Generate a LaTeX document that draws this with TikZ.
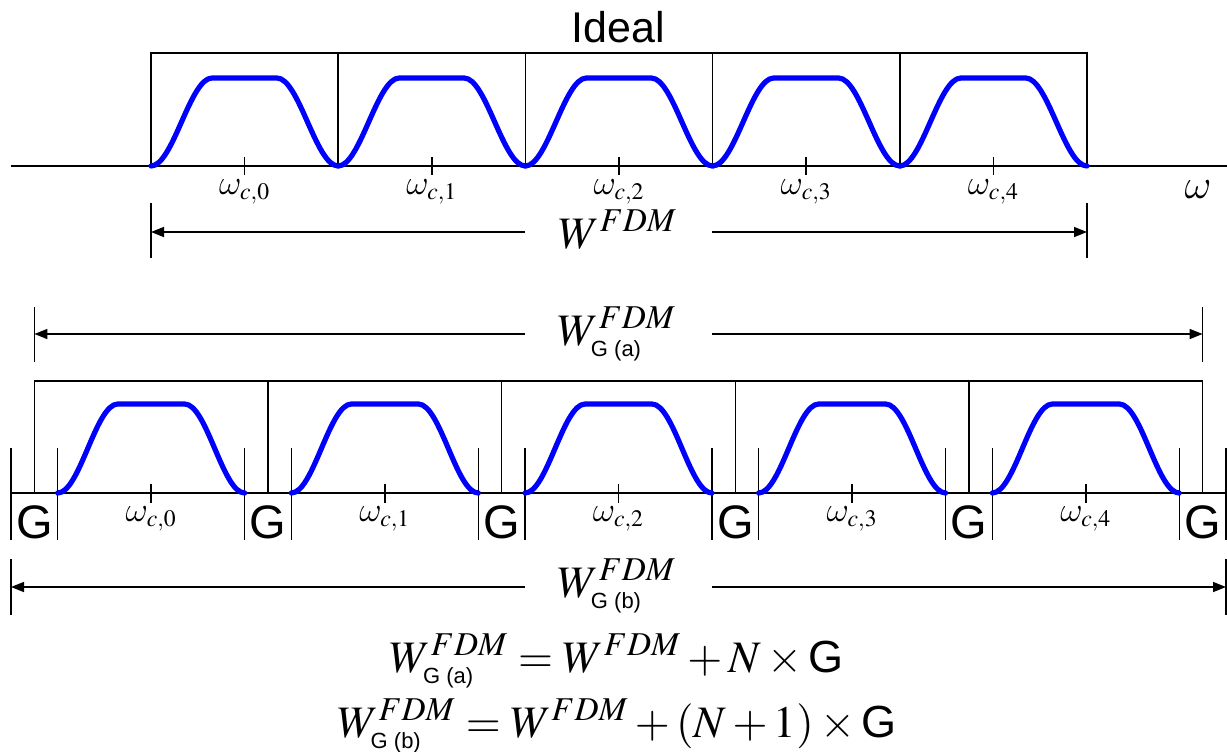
\documentclass[tikz,border=0pt]{standalone}
\usepackage{amsmath}
\usepackage{mathptmx}
\usepackage[no-math]{fontspec}
\setsansfont{Liberation Sans}
\usetikzlibrary{arrows.meta,positioning}
\DeclareSymbolFont{cmletters}{OML}{cmm}{m}{it}
\DeclareMathSymbol{\omega}{\mathord}{cmletters}{"21}
\newcommand\gsub[1]{\mbox{\fontsize{11}{13}\selectfont\sffamily #1}}

\begin{document}
\begin{tikzpicture}[
  x=0.5pt,y=-0.5pt,line width=0.75pt,
  sig/.style={blue,line width=2.6pt,line cap=round,line join=round},
  dim/.style={-{Triangle[length=6.5pt,width=5pt]}},
  wlab/.style={font=\fontsize{16}{19}\selectfont,inner sep=0pt},
  glab/.style={font=\fontsize{23.5}{28}\selectfont\sffamily,inner sep=0pt},
  big/.style={font=\fontsize{22.5}{27}\selectfont,inner sep=0pt,anchor=base}
]
  \useasboundingbox (0,0) rectangle (1227,751);

  \node[font=\fontsize{21.5}{25}\selectfont\sffamily,inner sep=0pt] (ideal) at (618,27) {Ideal};
  \coordinate (ax0) at (11,166);
  \coordinate (ax1) at (1227,166);
  \draw (ax0) -- (ax1);
  \node[big,anchor=center] (om) at (1198,190) {$\omega$};
  \draw (151,166) |- (1087,53) -- (1087,166);
  \foreach \i [evaluate=\i as \a using 151+187.2*\i] in {0,...,4}{
    \draw (\a,53) -- (\a,166);
    \draw[sig] (\a,166) .. controls (\a+22,166) and (\a+39,78) .. (\a+61,78)
      -- (\a+126,78) .. controls (\a+148,78) and (\a+165,166) .. (\a+187.2,166);
    \draw (\a+93.6,157) -- (\a+93.6,175);
    \node[wlab] (wt\i) at (\a+93.6,192) {$\omega_{c,\i}$};
  }

  \draw (151,203) -- (151,258);
  \draw (1087,203) -- (1087,258);
  \coordinate (wl) at (151,232);
  \coordinate (wr) at (1087,232);
  \coordinate (wgl) at (525,232);
  \coordinate (wgr) at (712,232);
  \draw[dim] (wgl) -- (wl);
  \draw[dim] (wgr) -- (wr);
  \node[big] (wfdm) at (618,248) {$W^{FDM}$};

  \draw (34.4,307) -- (34.4,362);
  \draw (1202.6,307) -- (1202.6,362);
  \coordinate (al) at (34.4,334);
  \coordinate (ar) at (1202.6,334);
  \coordinate (agl) at (525,334);
  \coordinate (agr) at (712,334);
  \draw[dim] (agl) -- (al);
  \draw[dim] (agr) -- (ar);
  \node[big] (wga) at (617,345) {$W^{FDM}_{\gsub{G (a)}}$};

  \coordinate (bx0) at (11,493);
  \coordinate (bx1) at (1227,493);
  \draw (bx0) -- (bx1);
  \draw (34.4,493) |- (1202.6,381) -- (1202.6,493);
  \foreach \i [evaluate=\i as \g using 11+233.65*\i] in {0,...,5}{
    \draw (\g,448) -- (\g,540);
    \draw (\g+46.73,448) -- (\g+46.73,540);
    \draw (\g+23.37,381) -- (\g+23.37,493);
    \node[glab] (g\i) at (\g+23.37,522) {G};
  }
  \foreach \i [evaluate=\i as \a using 57.73+233.65*\i] in {0,...,4}{
    \draw[sig] (\a,493) .. controls (\a+22,493) and (\a+38,404) .. (\a+60,404)
      -- (\a+127,404) .. controls (\a+149,404) and (\a+165,493) .. (\a+186.9,493);
    \draw (\a+93.45,484) -- (\a+93.45,503);
    \node[wlab] (wb\i) at (\a+93.45,519) {$\omega_{c,\i}$};
  }

  \draw (11,559) -- (11,615);
  \draw (1226,559) -- (1226,615);
  \coordinate (bl) at (11,587);
  \coordinate (br) at (1226,587);
  \coordinate (bgl) at (525,587);
  \coordinate (bgr) at (712,587);
  \draw[dim] (bgl) -- (bl);
  \draw[dim] (bgr) -- (br);
  \node[big] (wgb) at (617,597) {$W^{FDM}_{\gsub{G (b)}}$};

  \node[big] (eq1) at (617,672) {$W^{FDM}_{\gsub{G (a)}} = W^{FDM} + N \times \mbox{\sffamily G}$};
  \node[big] (eq2) at (617,737) {$W^{FDM}_{\gsub{G (b)}} = W^{FDM} + (N+1) \times \mbox{\sffamily G}$};
\end{tikzpicture}
\end{document}
